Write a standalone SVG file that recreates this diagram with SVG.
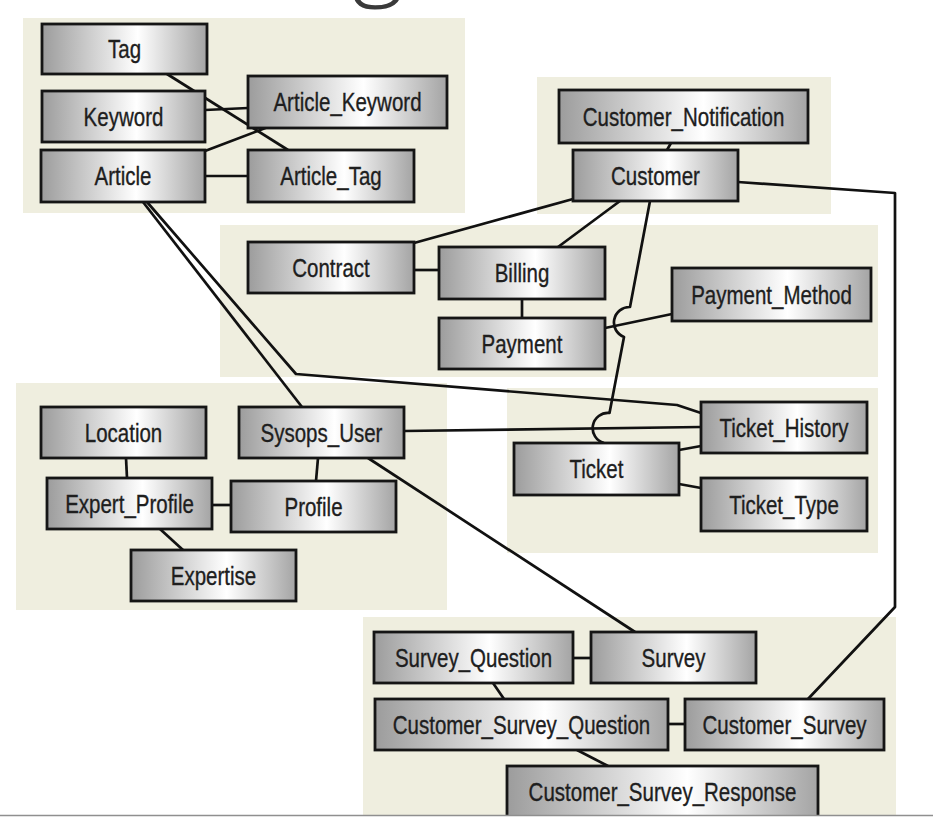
<svg xmlns="http://www.w3.org/2000/svg" width="933" height="825" viewBox="0 0 933 825">
<defs>
<linearGradient id="boxg" x1="0" y1="0" x2="1" y2="0">
<stop offset="0" stop-color="#9c9c9c"/>
<stop offset="0.58" stop-color="#ffffff"/>
<stop offset="1" stop-color="#a4a4a4"/>
</linearGradient>
<style>
.panel{fill:#efeedf;stroke:none}
.box{fill:url(#boxg);stroke:#151515;stroke-width:2.8}
.lbl{font-family:"Liberation Sans",Arial,sans-serif;font-size:25px;fill:#1e1e1e;stroke:#1e1e1e;stroke-width:0.35;text-anchor:middle}
.ln{fill:none;stroke:#111;stroke-width:2.7;stroke-linejoin:round}
</style>
</defs>
<rect width="933" height="825" fill="#ffffff"/>
<text x="378" y="-14" font-family="'Open Sans','Liberation Sans',sans-serif" font-weight="300" font-size="100" fill="#3a3a3a" text-anchor="middle">g</text>
<g id="panels">
<rect class="panel" x="23" y="18" width="442" height="195"/>
<rect class="panel" x="537" y="77" width="294" height="137"/>
<rect class="panel" x="220" y="225" width="658" height="152"/>
<rect class="panel" x="16" y="383" width="431" height="227"/>
<rect class="panel" x="507" y="388" width="371" height="165"/>
<rect class="panel" x="363" y="617" width="533" height="198"/>
</g>
<g id="connectors">
<line class="ln" x1="167" y1="74" x2="288" y2="150"/>
<line class="ln" x1="205" y1="110" x2="248" y2="108"/>
<line class="ln" x1="205" y1="151" x2="268" y2="127"/>
<line class="ln" x1="205" y1="176" x2="248" y2="176"/>
<line class="ln" x1="671" y1="143" x2="667" y2="150"/>
<polyline class="ln" points="738,182 895,193 895,607 808,699"/>
<line class="ln" x1="573" y1="199" x2="414" y2="243"/>
<line class="ln" x1="620" y1="201" x2="558" y2="247"/>
<path class="ln" d="M650,201 L630,307 A15.5,15.5 0 0 0 624,337 L609.5,413 A15.3,15.3 0 0 0 604,443"/>
<line class="ln" x1="414" y1="270" x2="439" y2="270"/>
<line class="ln" x1="522" y1="299" x2="522" y2="318"/>
<line class="ln" x1="605" y1="328" x2="672" y2="314"/>
<polyline class="ln" points="147,202 296,374 677,405 701,413"/>
<line class="ln" x1="143" y1="202" x2="302" y2="407"/>
<line class="ln" x1="404" y1="431" x2="701" y2="427"/>
<line class="ln" x1="368" y1="458" x2="635" y2="632"/>
<line class="ln" x1="126" y1="458" x2="127" y2="478"/>
<line class="ln" x1="318" y1="458" x2="316" y2="481"/>
<line class="ln" x1="212" y1="505" x2="231" y2="505"/>
<line class="ln" x1="160" y1="529" x2="183" y2="550"/>
<line class="ln" x1="679" y1="450" x2="701" y2="446"/>
<line class="ln" x1="679" y1="484" x2="701" y2="488"/>
<line class="ln" x1="573" y1="658" x2="591" y2="658"/>
<line class="ln" x1="493" y1="683" x2="504" y2="699"/>
<line class="ln" x1="668" y1="724" x2="685" y2="724"/>
<line class="ln" x1="577" y1="750" x2="608" y2="766"/>
</g>
<g id="n-tag"><rect class="box" x="42" y="24" width="165" height="50"/><text class="lbl" transform="translate(124.5 58) scale(0.82 1)">Tag</text></g>
<g id="n-keyword"><rect class="box" x="42" y="91" width="163" height="51"/><text class="lbl" transform="translate(123.5 125.5) scale(0.82 1)">Keyword</text></g>
<g id="n-article"><rect class="box" x="41" y="150" width="164" height="52"/><text class="lbl" transform="translate(123 185) scale(0.82 1)">Article</text></g>
<g id="n-article-keyword"><rect class="box" x="248" y="76" width="199" height="52"/><text class="lbl" transform="translate(347.5 111) scale(0.82 1)">Article_Keyword</text></g>
<g id="n-article-tag"><rect class="box" x="248" y="150" width="166" height="52"/><text class="lbl" transform="translate(331 185) scale(0.82 1)">Article_Tag</text></g>
<g id="n-customer-notification"><rect class="box" x="559" y="90" width="249" height="53"/><text class="lbl" transform="translate(683.5 125.5) scale(0.82 1)">Customer_Notification</text></g>
<g id="n-customer"><rect class="box" x="573" y="150" width="165" height="51"/><text class="lbl" transform="translate(655.5 184.5) scale(0.82 1)">Customer</text></g>
<g id="n-contract"><rect class="box" x="248" y="242" width="166" height="51"/><text class="lbl" transform="translate(331 276.5) scale(0.82 1)">Contract</text></g>
<g id="n-billing"><rect class="box" x="439" y="247" width="166" height="52"/><text class="lbl" transform="translate(522 282) scale(0.82 1)">Billing</text></g>
<g id="n-payment"><rect class="box" x="439" y="318" width="166" height="51"/><text class="lbl" transform="translate(522 352.5) scale(0.82 1)">Payment</text></g>
<g id="n-payment-method"><rect class="box" x="672" y="268" width="199" height="53"/><text class="lbl" transform="translate(771.5 303.5) scale(0.82 1)">Payment_Method</text></g>
<g id="n-location"><rect class="box" x="41" y="407" width="165" height="51"/><text class="lbl" transform="translate(123.5 441.5) scale(0.82 1)">Location</text></g>
<g id="n-sysops-user"><rect class="box" x="239" y="407" width="165" height="51"/><text class="lbl" transform="translate(321.5 441.5) scale(0.82 1)">Sysops_User</text></g>
<g id="n-expert-profile"><rect class="box" x="47" y="478" width="165" height="51"/><text class="lbl" transform="translate(129.5 512.5) scale(0.82 1)">Expert_Profile</text></g>
<g id="n-profile"><rect class="box" x="231" y="481" width="165" height="51"/><text class="lbl" transform="translate(313.5 515.5) scale(0.82 1)">Profile</text></g>
<g id="n-expertise"><rect class="box" x="131" y="550" width="165" height="51"/><text class="lbl" transform="translate(213.5 584.5) scale(0.82 1)">Expertise</text></g>
<g id="n-ticket-history"><rect class="box" x="701" y="402" width="166" height="51"/><text class="lbl" transform="translate(784 436.5) scale(0.82 1)">Ticket_History</text></g>
<g id="n-ticket"><rect class="box" x="514" y="443" width="165" height="52"/><text class="lbl" transform="translate(596.5 478) scale(0.82 1)">Ticket</text></g>
<g id="n-ticket-type"><rect class="box" x="701" y="478" width="166" height="53"/><text class="lbl" transform="translate(784 513.5) scale(0.82 1)">Ticket_Type</text></g>
<g id="n-survey-question"><rect class="box" x="374" y="632" width="199" height="51"/><text class="lbl" transform="translate(473.5 666.5) scale(0.82 1)">Survey_Question</text></g>
<g id="n-survey"><rect class="box" x="591" y="632" width="165" height="51"/><text class="lbl" transform="translate(673.5 666.5) scale(0.82 1)">Survey</text></g>
<g id="n-customer-survey-question"><rect class="box" x="375" y="699" width="293" height="51"/><text class="lbl" transform="translate(521.5 733.5) scale(0.82 1)">Customer_Survey_Question</text></g>
<g id="n-customer-survey"><rect class="box" x="685" y="699" width="199" height="51"/><text class="lbl" transform="translate(784.5 733.5) scale(0.82 1)">Customer_Survey</text></g>
<g id="n-customer-survey-response"><rect class="box" x="507" y="766" width="311" height="64"/><text class="lbl" transform="translate(662.5 801) scale(0.82 1)">Customer_Survey_Response</text></g>
<rect x="0" y="816" width="933" height="9" fill="#ffffff"/>
<line x1="0" y1="815.5" x2="933" y2="815.5" stroke="#8f8f8f" stroke-width="1.5"/>
</svg>
